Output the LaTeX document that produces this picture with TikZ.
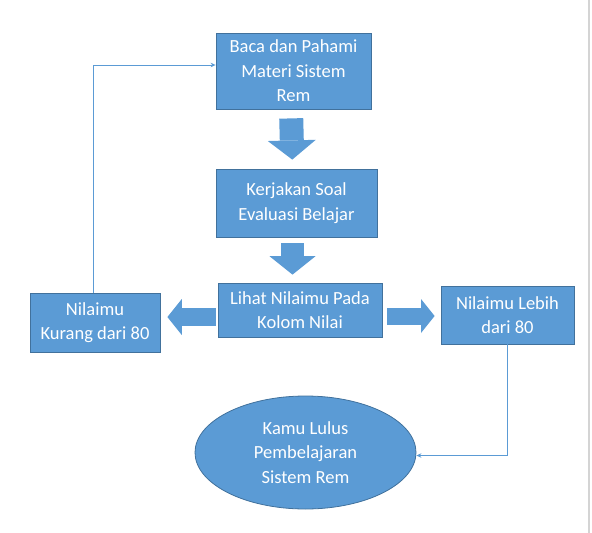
\documentclass[tikz,border=0pt]{standalone}
\usepackage{fontspec}
\setmainfont{Carlito}
\usepackage{tikz}
\usetikzlibrary{arrows.meta,shapes.geometric}

\definecolor{kotak}{HTML}{5B9BD5}
\definecolor{garis}{HTML}{41719C}
\definecolor{tepi}{HTML}{D4D4D4}

\begin{document}
\begin{tikzpicture}[x=1pt, y=-1pt]
    % Gaya kotak dan panah
    \tikzset{
        langkah/.style={
            draw=garis, fill=kotak, line width=0.8pt, rectangle, inner sep=0pt,
            text=white, align=center, font=\fontsize{18.5}{24.5}\selectfont
        },
        akhir/.style={
            langkah, ellipse
        },
        panahbesar/.style={
            draw=kotak, line width=#1, -{Triangle[width=2*#1, length=0.8*#1, line width=0pt]}
        },
        penghubung/.style={
            draw=kotak, line width=0.9pt, -{Stealth[length=5pt, width=4.5pt]}
        }
    }
    \useasboundingbox (0,0) rectangle (592,533);
    \draw[tepi, line width=1.6pt] (589,0) -- (589,533);

    % Kotak utama
    \node[langkah, minimum width=155pt, minimum height=76pt] (baca) at (293.5,71) {Baca dan Pahami\\Materi Sistem\\Rem};
    \node[langkah, minimum width=161pt, minimum height=68pt] (kerjakan) at (296.5,203) {Kerjakan Soal\\Evaluasi Belajar};
    \node[langkah, minimum width=164pt, minimum height=54pt] (lihat) at (300,310) {Lihat Nilaimu Pada\\Kolom Nilai};
    \node[langkah, minimum width=130pt, minimum height=59pt] (kurang) at (95,322.5) {Nilaimu\\Kurang dari 80};
    \node[langkah, minimum width=133pt, minimum height=58pt] (lebih) at (507.5,315) {Nilaimu Lebih\\dari 80};
    \node[akhir, minimum width=221pt, minimum height=113pt] (lulus) at (305.5,452.5) {Kamu Lulus\\Pembelajaran\\Sistem Rem};

    % Titik bantu untuk panah besar
    \coordinate (p1) at (291,0);
    \coordinate (p2) at (292.5,0);
    \coordinate (p3) at (0,317);
    \coordinate (p4) at (0,316);

    % Panah besar
    \draw[panahbesar=24pt, shorten <=9pt, shorten >=9pt] (baca.south -| p1) -- (kerjakan.north -| p2);
    \draw[panahbesar=23pt, shorten <=6pt, shorten >=8pt] (kerjakan.south -| p2) -- (lihat.north -| p2);
    \draw[panahbesar=18pt, shorten <=2pt, shorten >=7pt] (lihat.west |- p3) -- (kurang.east |- p3);
    \draw[panahbesar=17pt, shorten <=5pt, shorten >=6pt] (lihat.east |- p4) -- (lebih.west |- p4);

    % Garis penghubung
    \draw[penghubung] ([xshift=-2pt]kurang.north) |- ([yshift=6pt]baca.west);
    \draw[penghubung] (lebih.south) |- ([yshift=-3pt]lulus.east);
\end{tikzpicture}
\end{document}
